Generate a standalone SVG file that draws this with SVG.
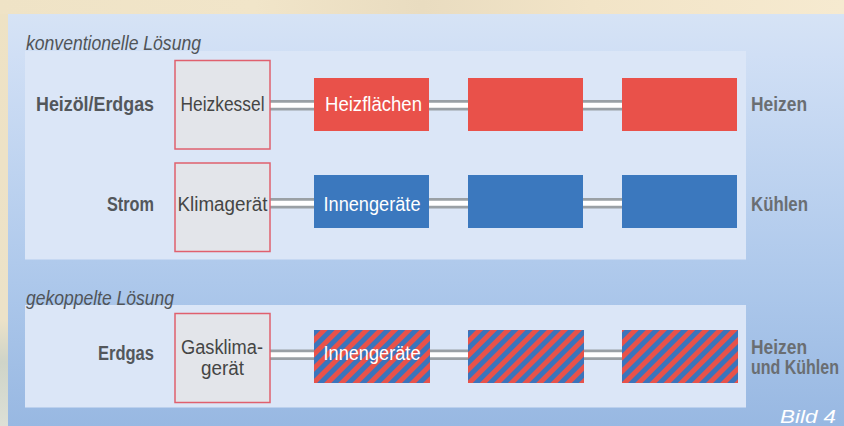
<svg xmlns="http://www.w3.org/2000/svg" width="844" height="426" viewBox="0 0 844 426">
<defs>
<linearGradient id="bgTop" x1="0" y1="0" x2="1" y2="0">
<stop offset="0" stop-color="#efe3c6"/>
<stop offset="0.3" stop-color="#f1e5c9"/>
<stop offset="0.5" stop-color="#e9dcc0"/>
<stop offset="0.7" stop-color="#f2e4c7"/>
<stop offset="1" stop-color="#f6ead0"/>
</linearGradient>
<linearGradient id="bgLeft" x1="0" y1="0" x2="0" y2="1">
<stop offset="0" stop-color="#eee2c4"/>
<stop offset="0.75" stop-color="#ece2c8"/>
<stop offset="0.85" stop-color="#cfd4c8"/>
<stop offset="1" stop-color="#dde0d6"/>
</linearGradient>
<linearGradient id="outer" x1="0" y1="0" x2="0" y2="1">
<stop offset="0" stop-color="#d6e3f5"/>
<stop offset="0.1" stop-color="#d0dff5"/>
<stop offset="0.65" stop-color="#adc8eb"/>
<stop offset="1" stop-color="#98b8e2"/>
</linearGradient>
<pattern id="stripes" patternUnits="userSpaceOnUse" width="10" height="10" patternTransform="rotate(45)">
<rect width="10" height="10" fill="#3b74bb"/>
<rect width="5" height="10" fill="#e8524a"/>
</pattern>
<style>
.inner{fill:#dbe6f7}
.src{fill:#e3e5ea;stroke:#e0606e;stroke-width:1.5}
.red{fill:#e9514a}
.blue{fill:#3b78be}
.hatch{fill:url(#stripes)}
.pipeO{stroke:#9aa0a5;stroke-width:10.5;fill:none}
.pipeI{stroke:#ffffff;stroke-width:5;fill:none}
.lbl{font-family:"Liberation Sans",Arial,sans-serif;font-weight:bold;font-size:20px;fill:#53575b}
.out{font-family:"Liberation Sans",Arial,sans-serif;font-weight:bold;font-size:20px;fill:#6a6e72}
.box{font-family:"Liberation Sans",Arial,sans-serif;font-size:20px;fill:#454545;text-anchor:middle}
.wbox{font-family:"Liberation Sans",Arial,sans-serif;font-size:20px;fill:#ffffff;text-anchor:middle}
.head{font-family:"Liberation Sans",Arial,sans-serif;font-style:italic;font-size:20px;fill:#505458}
.bild{font-family:"Liberation Sans",Arial,sans-serif;font-style:italic;font-size:19px;fill:#ffffff}
</style>
</defs>

<rect x="0" y="0" width="844" height="426" fill="url(#bgLeft)"/>
<rect x="0" y="0" width="844" height="14" fill="url(#bgTop)"/>
<rect x="8" y="14" width="836" height="412" fill="url(#outer)"/>

<rect class="inner" x="25" y="51" width="721" height="208.5"/>
<rect class="inner" x="25" y="305" width="721" height="102.5"/>

<text class="head" x="26" y="50" textLength="175" lengthAdjust="spacingAndGlyphs">konventionelle Lösung</text>
<text class="head" x="26" y="305" textLength="148" lengthAdjust="spacingAndGlyphs">gekoppelte Lösung</text>

<g id="connectors">
<path class="pipeO" d="M270 105.3H314M429 105.3H468M583 105.3H622M270 203.3H314M429 203.3H468M583 203.3H622M270 354.7H314M429 354.7H468M583 354.7H622"/>
<path class="pipeI" d="M270 105.3H314M429 105.3H468M583 105.3H622M270 203.3H314M429 203.3H468M583 203.3H622M270 354.7H314M429 354.7H468M583 354.7H622"/>
</g>

<g id="row1-label"><text class="lbl" x="154" y="111" text-anchor="end" textLength="118" lengthAdjust="spacingAndGlyphs">Heizöl/Erdgas</text></g>
<g id="heizkessel"><rect class="src" x="175" y="60.5" width="95" height="88.5"/><text class="box" x="222.5" y="111" textLength="84" lengthAdjust="spacingAndGlyphs">Heizkessel</text></g>
<g id="heizflaechen"><rect class="red" x="314" y="78" width="115" height="53"/><text class="wbox" x="373.5" y="111" textLength="97" lengthAdjust="spacingAndGlyphs">Heizflächen</text></g>
<g id="red2"><rect class="red" x="468" y="78" width="115" height="53"/></g>
<g id="red3"><rect class="red" x="622" y="78" width="115" height="53"/></g>
<g id="row1-out"><text class="out" x="751" y="111" textLength="56" lengthAdjust="spacingAndGlyphs">Heizen</text></g>

<g id="row2-label"><text class="lbl" x="154" y="211" text-anchor="end" textLength="47" lengthAdjust="spacingAndGlyphs">Strom</text></g>
<g id="klimageraet"><rect class="src" x="175" y="163" width="95" height="88.5"/><text class="box" x="222.5" y="211" textLength="90" lengthAdjust="spacingAndGlyphs">Klimagerät</text></g>
<g id="innengeraete1"><rect class="blue" x="314" y="175" width="115" height="53"/><text class="wbox" x="372" y="211" textLength="97" lengthAdjust="spacingAndGlyphs">Innengeräte</text></g>
<g id="blue2"><rect class="blue" x="468" y="175" width="115" height="53"/></g>
<g id="blue3"><rect class="blue" x="622" y="175" width="115" height="53"/></g>
<g id="row2-out"><text class="out" x="751" y="211" textLength="57" lengthAdjust="spacingAndGlyphs">Kühlen</text></g>

<g id="row3-label"><text class="lbl" x="154" y="360" text-anchor="end" textLength="56" lengthAdjust="spacingAndGlyphs">Erdgas</text></g>
<g id="gasklimageraet"><rect class="src" x="175" y="313.5" width="95" height="89"/><text class="box" x="222" y="354" textLength="82" lengthAdjust="spacingAndGlyphs">Gasklima-</text><text class="box" x="222.5" y="374.5" textLength="43" lengthAdjust="spacingAndGlyphs">gerät</text></g>
<g id="innengeraete2"><rect class="hatch" x="314" y="330" width="116" height="53"/><text class="wbox" x="372" y="360" textLength="97" lengthAdjust="spacingAndGlyphs">Innengeräte</text></g>
<g id="hatch2"><rect class="hatch" x="468" y="330" width="116" height="53"/></g>
<g id="hatch3"><rect class="hatch" x="622" y="330" width="116" height="53"/></g>
<g id="row3-out"><text class="out" x="751" y="353.5" textLength="56" lengthAdjust="spacingAndGlyphs">Heizen</text><text class="out" transform="translate(751 373.5) scale(0.8 1)" x="0" y="0">und Kühlen</text></g>

<text class="bild" x="780" y="423" textLength="56" lengthAdjust="spacingAndGlyphs">Bild  4</text>
</svg>
